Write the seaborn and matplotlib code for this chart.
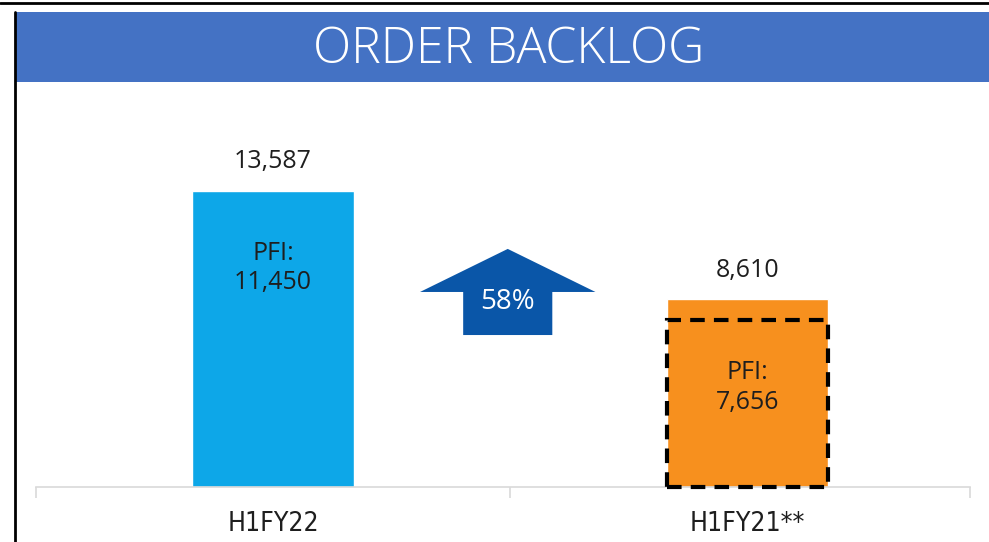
import matplotlib
matplotlib.use("Agg")
import matplotlib.pyplot as plt
from matplotlib.patches import Rectangle, Polygon
from matplotlib.lines import Line2D
import pandas as pd
import seaborn as sns

# chart data
periods = ["H1FY22", "H1FY21**"]
backlog = [13587, 8610]
pfi = [11450, 7656]
growth_label = "58%"
title = "ORDER BACKLOG"

bar_colors = ["#0DA7E8", "#F7901E"]
text_color = "#1E1E1E"

sns.set_style("white")
plt.rcParams["font.family"] = ["Open Sans", "DejaVu Sans"]

df = pd.DataFrame({"period": periods, "backlog": backlog})

fig = plt.figure(figsize=(9.89, 5.42), dpi=100)
W, H = 989, 542
ax = fig.add_axes([36 / W, (H - 487) / H, (970 - 36) / W, (487 - 100) / H])

sns.barplot(data=df, x="period", y="backlog", hue="period", palette=bar_colors,
            width=0.34, saturation=1, legend=False, ax=ax)

ax.set_xlim(-0.5, 1.47)
ax.set_ylim(0, 17750)
ax.set_xlabel("")
ax.set_ylabel("")
ax.set_yticks([])
for s in ["top", "right", "left"]:
    ax.spines[s].set_visible(False)
ax.spines["bottom"].set_color("#D9D9D9")
ax.spines["bottom"].set_linewidth(1.2)
ax.tick_params(axis="x", which="major", length=0, pad=17, labelsize=19, colors=text_color)
for lab in ax.get_xticklabels():
    lab.set_family(["DejaVu Sans"])
    lab.set_stretch("condensed")
ax.set_xticks([-0.5, 0.5, 1.47], minor=True)
ax.tick_params(axis="x", which="minor", bottom=True, length=8, width=1.2, color="#D9D9D9")

# total labels above bars
for i, v in enumerate(backlog):
    ax.annotate(f"{v:,}", (i, v), xytext=(0, 21), textcoords="offset points",
                ha="center", va="center", fontsize=18, color=text_color)

# PFI labels inside bars
pfi_text_y = [10050, 4560]
for i, (v, ty) in enumerate(zip(pfi, pfi_text_y)):
    ax.text(i, ty, f"PFI:\n{v:,}", ha="center", va="center", fontsize=18,
            color=text_color, linespacing=1.25)

# dashed PFI box on prior period
ax.add_patch(Rectangle((1 - 0.17, 0), 0.34, pfi[1], fill=False, edgecolor="black",
                       linewidth=3, linestyle=(0, (3.5, 2.2)), zorder=5, clip_on=False))

# growth arrow
cx = 0.495
hw, sw = 0.185, 0.094
tip, shoulder, bottom = 10920, 8945, 6970
arrow = Polygon([(cx, tip), (cx + hw, shoulder), (cx + sw, shoulder), (cx + sw, bottom),
                 (cx - sw, bottom), (cx - sw, shoulder), (cx - hw, shoulder)],
                closed=True, facecolor="#0A56A8", edgecolor="none", zorder=4)
ax.add_patch(arrow)
ax.text(cx, 8480, growth_label, ha="center", va="center", fontsize=20, color="white", zorder=6)

# banner and frame lines
fig.patches.append(Rectangle((16 / W, 1 - 82 / H), 1 - 16 / W, 70 / H,
                             transform=fig.transFigure, facecolor="#4472C4",
                             edgecolor="none", zorder=0))
fig.lines.append(Line2D([0, 1], [1 - 3 / H, 1 - 3 / H], transform=fig.transFigure,
                        color="black", linewidth=2))
fig.lines.append(Line2D([15 / W, 15 / W], [0, 1 - 12 / H], transform=fig.transFigure,
                        color="black", linewidth=2))
fig.text(509 / W, 1 - 50 / H, title, ha="center", va="center", fontsize=36,
         fontweight=300, color="white")

fig.savefig("out.png", dpi=100)
